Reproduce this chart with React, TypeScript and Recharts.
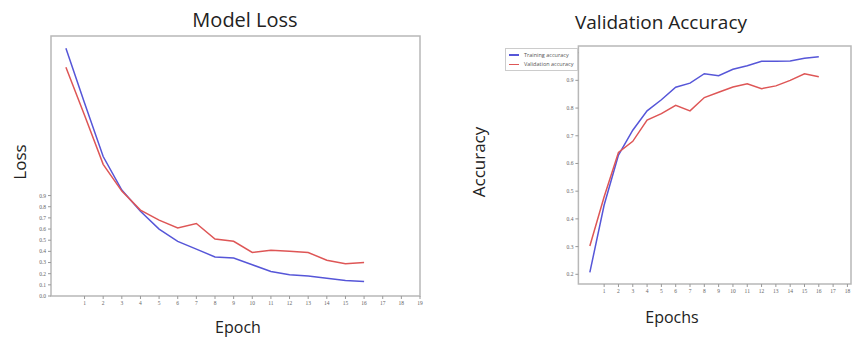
import { LineChart, Line, XAxis, YAxis, ReferenceArea, Legend } from 'recharts'

const epochs = [0, 1, 2, 3, 4, 5, 6, 7, 8, 9, 10, 11, 12, 13, 14, 15, 16]
const trainLoss = [2.22, 1.73, 1.25, 0.95, 0.76, 0.6, 0.49, 0.42, 0.35, 0.34, 0.28, 0.22, 0.19, 0.18, 0.16, 0.14, 0.13]
const valLoss = [2.05, 1.62, 1.18, 0.94, 0.77, 0.68, 0.61, 0.65, 0.51, 0.49, 0.39, 0.41, 0.4, 0.39, 0.32, 0.29, 0.3]
const trainAcc = [0.207, 0.45, 0.63, 0.72, 0.79, 0.83, 0.875, 0.89, 0.924, 0.917, 0.94, 0.953, 0.969, 0.969, 0.97, 0.98, 0.985]
const valAcc = [0.302, 0.48, 0.64, 0.68, 0.757, 0.78, 0.81, 0.79, 0.838, 0.857, 0.876, 0.888, 0.87, 0.88, 0.9, 0.924, 0.913]

const lossXTicks = [1, 2, 3, 4, 5, 6, 7, 8, 9, 10, 11, 12, 13, 14, 15, 16, 17, 18, 19]
const lossYTicks = [0, 0.1, 0.2, 0.3, 0.4, 0.5, 0.6, 0.7, 0.8, 0.9]
const accXTicks = [1, 2, 3, 4, 5, 6, 7, 8, 9, 10, 11, 12, 13, 14, 15, 16, 17, 18]
const accYTicks = [0.2, 0.3, 0.4, 0.5, 0.6, 0.7, 0.8, 0.9, 1.0]

const BLUE = '#5656d8'
const RED = '#de5656'
const FRAME = '#b8b8b8'
const FONT = '"Open Sans", "DejaVu Sans", sans-serif'

const lossData = epochs.map((e, i) => ({ epoch: e, train: trainLoss[i], val: valLoss[i] }))
const accData = epochs.map((e, i) => ({ epoch: e, train: trainAcc[i], val: valAcc[i] }))

const tickStyle = { fontSize: 5.5, fill: '#666' }

function AccLegend() {
  return (
    <div style={{ border: '1px solid #ccc', background: '#fff', padding: '1px 4px 1px 3px', fontSize: 5.5, color: '#555', fontFamily: FONT }}>
      <div style={{ display: 'flex', alignItems: 'center', height: 9.5 }}>
        <span style={{ display: 'inline-block', width: 10, height: 1.5, background: BLUE, marginRight: 5 }} />
        <span>Training accuracy</span>
      </div>
      <div style={{ display: 'flex', alignItems: 'center', height: 9.5 }}>
        <span style={{ display: 'inline-block', width: 10, height: 1.5, background: RED, marginRight: 5 }} />
        <span>Validation accuracy</span>
      </div>
    </div>
  )
}

const txt = (s: React.CSSProperties): React.CSSProperties => ({ position: 'absolute', fontFamily: FONT, color: '#222', whiteSpace: 'nowrap', ...s })

export default function App() {
  return (
    <div style={{ position: 'absolute', left: 0, top: 0, width: 856, height: 338, background: '#fff' }}>
      <div style={{ position: 'absolute', left: 0, top: 0 }}>
        <LineChart width={430} height={338} data={lossData} margin={{ top: 36, right: 10, bottom: 22, left: 31 }}>
          <XAxis dataKey="epoch" type="number" domain={[-0.8, 19]} ticks={lossXTicks} allowDataOverflow
            tick={tickStyle} tickSize={3} height={20} axisLine={false} stroke="#999" interval={0} />
          <YAxis type="number" domain={[0, 2.33]} ticks={lossYTicks} allowDataOverflow width={20}
            tick={tickStyle} tickSize={3} axisLine={false} stroke="#999" interval={0}
            tickFormatter={(v: number) => v.toFixed(1)} />
          <ReferenceArea x1={-0.8} x2={19} y1={0} y2={2.33} fill="none" stroke={FRAME} strokeWidth={1.5} ifOverflow="visible" />
          <Line dataKey="train" stroke={BLUE} strokeWidth={1.5} dot={false} isAnimationActive={false} />
          <Line dataKey="val" stroke={RED} strokeWidth={1.5} dot={false} isAnimationActive={false} />
        </LineChart>
      </div>
      <div style={{ position: 'absolute', left: 430, top: 0 }}>
        <LineChart width={426} height={338} data={accData} margin={{ top: 46, right: 5, bottom: 34, left: 53 }}>
          <XAxis dataKey="epoch" type="number" domain={[-0.8, 18.25]} ticks={accXTicks} allowDataOverflow
            tick={tickStyle} tickSize={3} height={20} axisLine={false} stroke="#999" interval={0} />
          <YAxis type="number" domain={[0.165, 1.024]} ticks={accYTicks} allowDataOverflow width={22}
            tick={tickStyle} tickSize={3} axisLine={false} stroke="#999" interval={0}
            tickFormatter={(v: number) => v.toFixed(1)} />
          <ReferenceArea x1={-0.8} x2={18.25} y1={0.165} y2={1.024} fill="none" stroke={FRAME} strokeWidth={1.5} ifOverflow="visible" />
          <Line dataKey="train" name="Training accuracy" stroke={BLUE} strokeWidth={1.5} dot={false} isAnimationActive={false} />
          <Line dataKey="val" name="Validation accuracy" stroke={RED} strokeWidth={1.5} dot={false} isAnimationActive={false} />
          <Legend content={<AccLegend />} layout="vertical" verticalAlign="top" align="left"
            wrapperStyle={{ top: 48, left: 75, width: 'auto' }} />
        </LineChart>
      </div>
      <div style={txt({ left: 245, top: 6, fontSize: 20, transform: 'translateX(-50%)' })}>Model Loss</div>
      <div style={txt({ left: 661, top: 9, fontSize: 19, transform: 'translateX(-50%)' })}>Validation Accuracy</div>
      <div style={txt({ left: 238, top: 316, fontSize: 16, transform: 'translateX(-50%)' })}>Epoch</div>
      <div style={txt({ left: 672, top: 306, fontSize: 16, transform: 'translateX(-50%)' })}>Epochs</div>
      <div style={txt({ left: 19, top: 162, fontSize: 17, transform: 'translate(-50%, -50%) rotate(-90deg)' })}>Loss</div>
      <div style={txt({ left: 478, top: 162, fontSize: 17, transform: 'translate(-50%, -50%) rotate(-90deg)' })}>Accuracy</div>
    </div>
  )
}
